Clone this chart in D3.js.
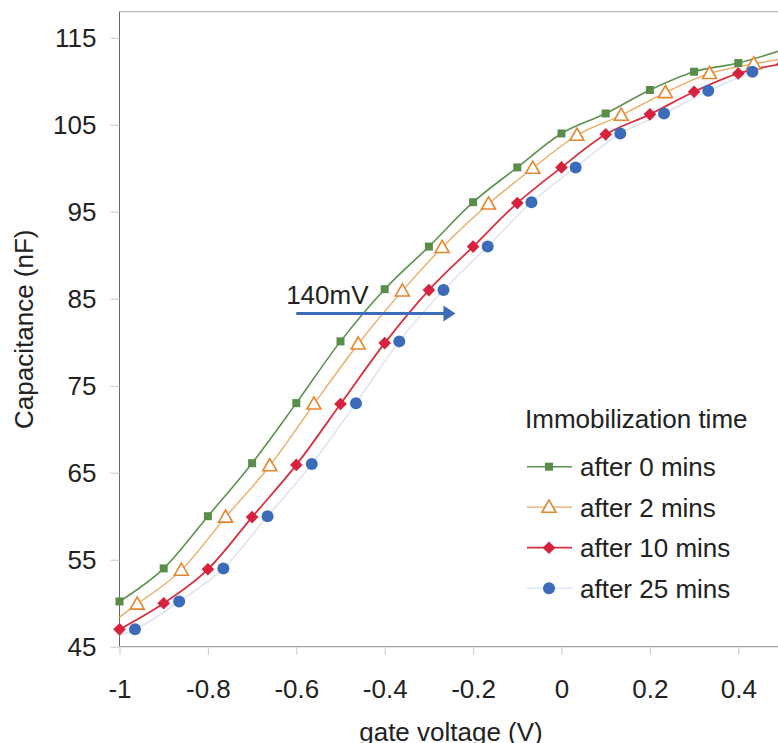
<!DOCTYPE html>
<html>
<head>
<meta charset="utf-8">
<script src="https://cdn.jsdelivr.net/npm/d3@7"></script>
<style>
  body { margin: 0; background: #fff; }
  svg { display: block; font-family: "Liberation Sans", Arial, Helvetica, sans-serif; }
  .tick text { fill: #222; font-size: 26px; }
</style>
</head>
<body>
<div id="chart"></div>
<script>
// gate voltage (V) and capacitance (nF)
var x0 = [-1, -0.9, -0.8, -0.7, -0.6, -0.5, -0.4, -0.3, -0.2, -0.1, 0, 0.1, 0.2, 0.3, 0.4, 0.5];
var c0 = [50.2, 54, 60, 66.1, 73, 80.1, 86.1, 91, 96.1, 100.1, 104, 106.3, 109, 111.1, 112.1, 113.6];

var x2 = [-0.96, -0.86, -0.76, -0.66, -0.56, -0.46, -0.36, -0.27, -0.165, -0.065, 0.035, 0.135, 0.235, 0.335, 0.435];
var c2 = [49.9, 53.8, 59.9, 65.8, 72.9, 79.8, 85.9, 90.9, 95.9, 100, 103.8, 106.1, 108.7, 110.9, 112];

var x10 = [-1, -0.9, -0.8, -0.7, -0.6, -0.5, -0.4, -0.3, -0.2, -0.1, 0, 0.1, 0.2, 0.3, 0.4, 0.5];
var c10 = [47, 50, 53.9, 59.9, 65.9, 72.9, 79.9, 86, 91, 96, 100.1, 103.9, 106.2, 108.8, 110.9, 112];

var x25 = [-0.965, -0.865, -0.765, -0.665, -0.565, -0.465, -0.367, -0.267, -0.167, -0.068, 0.032, 0.133, 0.232, 0.332, 0.432];
var c25 = [47, 50.2, 54, 60, 66, 73, 80.1, 86, 91, 96.1, 100.1, 104, 106.3, 108.9, 111.1];

// where the drawn curves start / end beyond the markers
var lineStart2 = [-1, 48.4], lineEnd2 = [0.49, 112.5];
var lineStart25 = [-1, 46.3];

var seriesNames = ['after 0 mins', 'after 2 mins', 'after 10 mins', 'after 25 mins'];
var xTicks = [-1, -0.8, -0.6, -0.4, -0.2, 0, 0.2, 0.4];
var xTickLabels = ['-1', '-0.8', '-0.6', '-0.4', '-0.2', '0', '0.2', '0.4'];
var yTicks = [45, 55, 65, 75, 85, 95, 105, 115];

// shift annotation
var shiftLabel = '140mV';
var shiftFrom = [-0.6, 83.3], shiftTo = [-0.24, 83.3];

var W = 778, H = 743;
var svg = d3.select('#chart').append('svg')
  .attr('width', W).attr('height', H);

var x = d3.scaleLinear().domain([-1, 0.5]).range([119.5, 782.5]);
var y = d3.scaleLinear().domain([45, 118]).range([646.7, 11.7]);

// frame top
svg.append('line')
  .attr('x1', x(-1)).attr('x2', W)
  .attr('y1', y(118)).attr('y2', y(118))
  .style('stroke', '#a8a8a8').style('stroke-width', 1);

var yAxis = svg.append('g')
  .attr('transform', 'translate(' + x(-1) + ',0)')
  .call(d3.axisLeft(y).tickValues(yTicks).tickSize(9).tickPadding(14));
yAxis.select('.domain').style('stroke', '#666').attr('d', 'M0,' + y(45) + 'V' + y(118));
yAxis.selectAll('.tick line').style('stroke', '#c8c8c8');

var xAxis = svg.append('g')
  .attr('transform', 'translate(0,' + y(45) + ')')
  .call(d3.axisBottom(x).tickValues(xTicks).tickSize(8).tickPadding(25)
    .tickFormat(function(d, i) { return xTickLabels[i]; }));
xAxis.select('.domain').style('stroke', '#8a8a8a').attr('d', 'M' + x(-1) + ',0H' + W);
xAxis.selectAll('.tick line').style('stroke', '#c8c8c8');

// axis titles
svg.append('text')
  .attr('x', x(-0.25)).attr('y', 741)
  .attr('text-anchor', 'middle')
  .style('font-size', '26px').style('fill', '#222')
  .text('gate voltage (V)');

svg.append('text')
  .attr('transform', 'translate(33,' + y(81.5) + ') rotate(-90)')
  .attr('text-anchor', 'middle')
  .style('font-size', '26px').style('fill', '#222')
  .text('Capacitance (nF)');

function pts(xs, cs) {
  return xs.map(function(v, i) { return [v, cs[i]]; });
}

var line = d3.line()
  .x(function(d) { return x(d[0]); })
  .y(function(d) { return y(d[1]); })
  .curve(d3.curveMonotoneX);

var series = [
  { name: seriesNames[0], pts: pts(x0, c0), line: pts(x0, c0),
    lineColor: '#5e9150', lineWidth: 1.6, mark: 'square', color: '#5a8c4a' },
  { name: seriesNames[1], pts: pts(x2, c2), line: [lineStart2].concat(pts(x2, c2), [lineEnd2]),
    lineColor: '#eaa860', lineWidth: 1.3, mark: 'triangle', color: '#e3862c' },
  { name: seriesNames[2], pts: pts(x10, c10), line: pts(x10, c10),
    lineColor: '#d8303f', lineWidth: 1.8, mark: 'diamond', color: '#d6223e' },
  { name: seriesNames[3], pts: pts(x25, c25), line: [lineStart25].concat(pts(x25, c25)),
    lineColor: '#dfe5f2', lineWidth: 1.6, mark: 'circle', color: '#3c6bb9' }
];

var plot = svg.append('g');

series.forEach(function(s) {
  plot.append('path')
    .datum(s.line)
    .attr('d', line)
    .style('fill', 'none')
    .style('stroke', s.lineColor)
    .style('stroke-width', s.lineWidth);
});

function drawMarker(g, s, cx, cy) {
  if (s.mark === 'square') {
    g.append('rect').attr('x', cx - 4).attr('y', cy - 4).attr('width', 8).attr('height', 8)
      .style('fill', s.color);
  } else if (s.mark === 'triangle') {
    g.append('path')
      .attr('d', d3.symbol().type(d3.symbolTriangle).size(85)())
      .attr('transform', 'translate(' + cx + ',' + (cy + 1) + ')')
      .style('fill', '#fff').style('stroke', s.color).style('stroke-width', 1.6);
  } else if (s.mark === 'diamond') {
    g.append('path')
      .attr('d', d3.symbol().type(d3.symbolSquare).size(80)())
      .attr('transform', 'translate(' + cx + ',' + cy + ') rotate(45)')
      .style('fill', s.color);
  } else {
    g.append('circle').attr('cx', cx).attr('cy', cy).attr('r', 6)
      .style('fill', s.color);
  }
}

series.forEach(function(s) {
  s.pts.forEach(function(p) {
    drawMarker(plot, s, x(p[0]), y(p[1]));
  });
});

// shift arrow
svg.append('text')
  .attr('x', x(-0.623)).attr('y', y(84.4))
  .style('font-size', '26px').style('fill', '#222')
  .text(shiftLabel);

svg.append('line')
  .attr('x1', x(shiftFrom[0])).attr('y1', y(shiftFrom[1]))
  .attr('x2', x(shiftTo[0]) - 10).attr('y2', y(shiftTo[1]))
  .style('stroke', '#3d6cb8').style('stroke-width', 3);

svg.append('path')
  .attr('d', 'M' + x(shiftTo[0]) + ',' + y(shiftTo[1]) +
    'L' + (x(shiftTo[0]) - 12) + ',' + (y(shiftTo[1]) - 8) +
    'L' + (x(shiftTo[0]) - 12) + ',' + (y(shiftTo[1]) + 8) + 'Z')
  .style('fill', '#3d6cb8');

// legend
var legend = svg.append('g').attr('transform', 'translate(525,0)');
legend.append('text')
  .attr('x', 0).attr('y', 428)
  .style('font-size', '26px').style('fill', '#222')
  .text('Immobilization time');

series.forEach(function(s, i) {
  var cy = 466.7 + i * 40.5;
  legend.append('line')
    .attr('x1', 2).attr('x2', 47).attr('y1', cy).attr('y2', cy)
    .style('stroke', s.lineColor).style('stroke-width', s.lineWidth);
  drawMarker(legend, s, 24, cy);
  legend.append('text')
    .attr('x', 55).attr('y', cy + 9.5)
    .style('font-size', '26px').style('fill', '#222')
    .text(s.name);
});
</script>
</body>
</html>
